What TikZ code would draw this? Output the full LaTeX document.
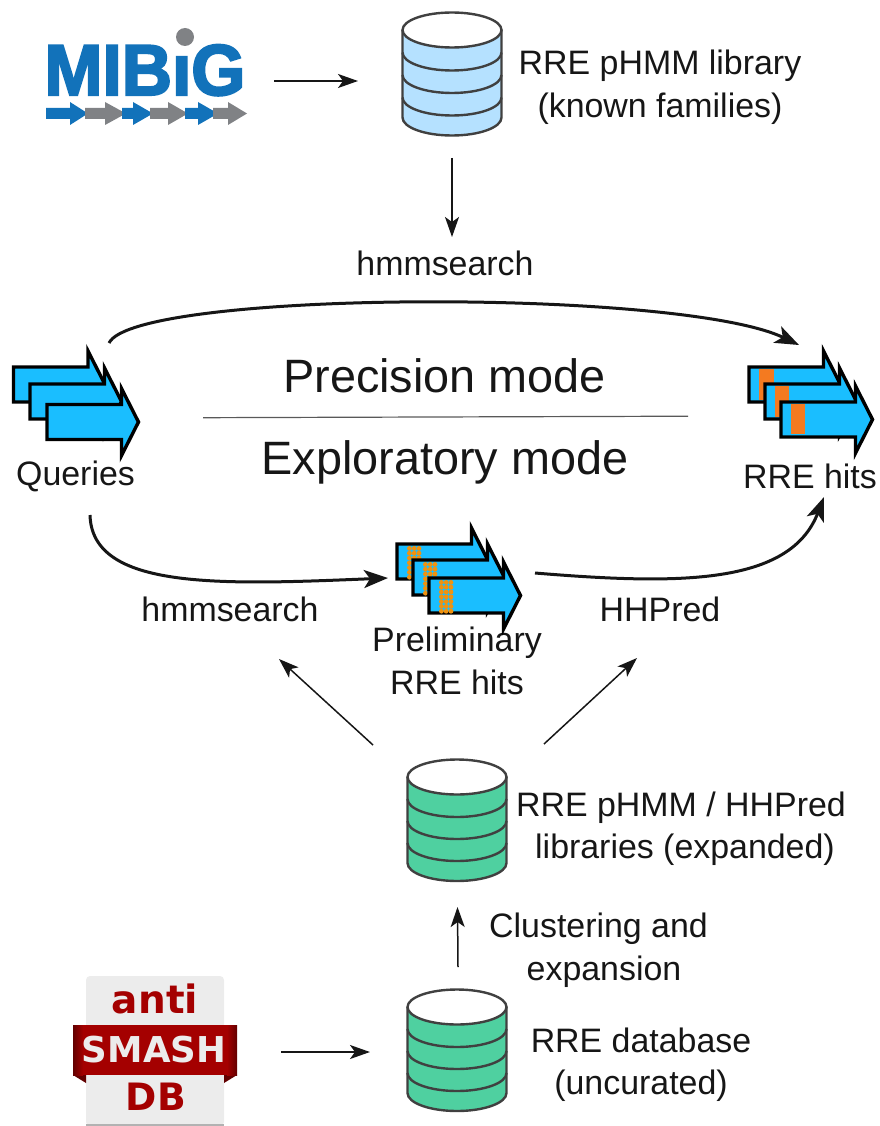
\documentclass[tikz,border=0pt]{standalone}
\usepackage{fontspec}
\setmainfont{Liberation Sans}
\newfontfamily\djb{DejaVu Sans Bold}
\newfontfamily\heavy[FakeBold=3]{Liberation Sans Bold}
\usetikzlibrary{arrows.meta,shapes.geometric}
\definecolor{ink}{HTML}{161616}
\definecolor{qblue}{HTML}{1ABEFF}
\definecolor{hitorange}{HTML}{F47A20}
\definecolor{dotorange}{HTML}{F0920F}
\definecolor{libblue}{HTML}{B5E1FF}
\definecolor{libgreen}{HTML}{4FD0A0}
\definecolor{mibigblue}{HTML}{1272BA}
\definecolor{mibiggrey}{HTML}{808285}
\definecolor{asred}{HTML}{A40000}
\definecolor{asgrey}{HTML}{ECECEC}
\tikzset{
  lbl/.style={font=\fontsize{33.9}{40}\selectfont,text=ink,anchor=base,inner sep=0pt},
  modelbl/.style={font=\fontsize{46.8}{54}\selectfont,text=ink,anchor=base,inner sep=0pt},
  thinarrow/.style={draw=ink,line width=1.5pt,-{Stealth[length=20pt,width=14pt,inset=5pt]}},
  thickarrow/.style={draw=ink,line width=3pt,-{Stealth[length=24pt,width=18pt,inset=6pt]}},
  dbline/.style={draw=black!75,line width=2.4pt},
  geneout/.style={draw=black,line width=3.4pt,fill=qblue,miter limit=10,line join=miter},
}
% cylinder: centre x, top-ellipse centre y, band pitch, fill
\newcommand{\dbcyl}[4]{%
  \path[fill=#4] (#1-49.5,#2) -- (#1-49.5,#2+3*#3+20) arc[x radius=49.5,y radius=18,start angle=180,end angle=0] -- (#1+49.5,#2) -- cycle;
  \draw[dbline] (#1-49.5,#2) -- (#1-49.5,#2+3*#3+20) arc[x radius=49.5,y radius=18,start angle=180,end angle=0] -- (#1+49.5,#2);
  \foreach \k in {1,2,3}{\draw[dbline] (#1-49.5,#2+\k*#3) arc[x radius=49.5,y radius=18,start angle=180,end angle=0];}
  \draw[dbline,fill=white] (#1,#2) ellipse[x radius=49.5,y radius=17.5];
}
% one gene arrow: left x, shaft top y
\newcommand{\genearrow}[2]{%
  \draw[geneout] (#1,#2) -- (#1+74.5,#2) -- (#1+74.5,#2-16) -- (#1+91.5,#2+17.5) -- (#1+74.5,#2+51) -- (#1+74.5,#2+35) -- (#1,#2+35) -- cycle;
}
\newcommand{\logoarrow}[4]{% x0, x-base, tip, colour
  \fill[#4] (#1,108) -- (#2,108) -- (#2,102) -- (#3,113.5) -- (#2,125) -- (#2,119) -- (#1,119) -- cycle;
}
\newcommand{\dotbar}[2]{% left x, top y
  \foreach \i in {0,1,2}{\foreach \j in {0,...,6}{\fill[dotorange] (#1+2.4+\i*4.8,#2+2.4+\j*4.8) circle[radius=2.4];}}
}
\begin{document}
\begin{tikzpicture}[x=1pt,y=-1pt]
\useasboundingbox (0,0) rectangle (879,1126);
% MIBiG logo
\node[inner sep=0pt,anchor=base,text=mibigblue] (mibig) at (145,95) {\scalebox{0.965}[1]{\heavy\fontsize{72}{72}\selectfont MIB\char"0131 G}};
\fill[mibiggrey] (185,37) circle[radius=9];
\logoarrow{46}{70}{88}{mibigblue}
\logoarrow{85}{105}{126}{mibiggrey}
\logoarrow{122}{133}{153}{mibigblue}
\logoarrow{150}{168}{188}{mibiggrey}
\logoarrow{185}{198}{218}{mibigblue}
\logoarrow{213}{228}{247}{mibiggrey}
% databases
\dbcyl{452}{30}{22.5}{libblue}
\dbcyl{457}{777}{22}{libgreen}
\dbcyl{457}{1007}{22}{libgreen}
% labels
\node[lbl] (lib1) at (660,75) {RRE pHMM library};
\node[lbl] (lib2) at (660,118) {(known families)};
\node[lbl] (hs1) at (445,275) {hmmsearch};
\node[modelbl] (prec) at (444.5,392) {Precision mode};
\node[modelbl] (expl) at (445,474) {Exploratory mode};
\node[lbl] (q) at (75.5,485) {Queries};
\node[lbl] (hits) at (810,488) {RRE hits};
\node[lbl] (hs2) at (230,621) {hmmsearch};
\node[lbl] (hhp) at (660,621) {HHPred};
\node[lbl] (pre1) at (457,651) {Preliminary};
\node[lbl] (pre2) at (457,694) {RRE hits};
\node[lbl] (exp1) at (681,816) {RRE pHMM / HHPred};
\node[lbl] (exp2) at (685,858) {libraries (expanded)};
\node[lbl] (cl1) at (598.5,937) {Clustering and};
\node[lbl] (cl2) at (604,980) {expansion};
\node[lbl] (db1) at (641,1052) {RRE database};
\node[lbl] (db2) at (641,1094) {(uncurated)};
% mode separator
\coordinate (sepL) at (203,417.7); \coordinate (sepR) at (688,416.2);
\draw[draw=black!65,line width=1.2pt] (sepL) -- (sepR);
% queries
\genearrow{13.5}{367}\genearrow{30}{384}\genearrow{47}{404.5}
% RRE hits
\genearrow{749}{367}\fill[hitorange] (759,369) rectangle (774,400);
\genearrow{765}{384}\fill[hitorange] (775,386) rectangle (789,417);
\genearrow{781}{402}\fill[hitorange] (791,404) rectangle (805,434);
% preliminary hits
\genearrow{397}{544}\dotbar{407}{546}
\genearrow{413}{560}\dotbar{423}{562}
\genearrow{429}{578}\dotbar{439}{580}
% antiSMASH logo
\fill[asgrey,rounded corners=4pt] (86,976) rectangle (224,1126);
\fill[black!30] (86,1124) rectangle (224,1126);
\fill[asred!60!black] (73,1075) -- (86,1083) -- (86,1075) -- cycle;
\fill[asred!60!black] (237,1075) -- (224,1083) -- (224,1075) -- cycle;
\shade[left color=asred!60!black,right color=asred] (73,1025) rectangle (83,1075);
\shade[right color=asred!60!black,left color=asred] (227,1025) rectangle (237,1075);
\fill[asred] (83,1025) rectangle (227,1075);
\node[inner sep=0pt,anchor=base,text=asred,font=\djb\fontsize{39}{40}\selectfont] (anti) at (155,1013) {anti};
\node[inner sep=0pt,anchor=base,text=asgrey,font=\djb\fontsize{35.6}{40}\selectfont] (smash) at (154,1062) {SMASH};
\node[inner sep=0pt,anchor=base,text=asred,font=\djb\fontsize{37.7}{40}\selectfont] (dbt) at (156,1110) {DB};
% connector ends
\coordinate (a1) at (274,81); \coordinate (a2) at (358,81);
\coordinate (b1) at (452,158); \coordinate (b2) at (452,237);
\coordinate (c1) at (373,745); \coordinate (c2) at (279,659);
\coordinate (d1) at (544,744); \coordinate (d2) at (637,658);
\coordinate (e1) at (458,967); \coordinate (e2) at (457.5,907);
\coordinate (f1) at (281,1052); \coordinate (f2) at (370,1052);
\coordinate (g1) at (109,343); \coordinate (g2) at (799,345);
\coordinate (h1) at (90,515); \coordinate (h2) at (388,578);
\coordinate (i1) at (535,573); \coordinate (i2) at (824,497);
\draw[thinarrow] (a1) -- (a2);
\draw[thinarrow] (b1) -- (b2);
\draw[thinarrow] (c1) -- (c2);
\draw[thinarrow] (d1) -- (d2);
\draw[thinarrow] (e1) -- (e2);
\draw[thinarrow] (f1) -- (f2);
\draw[thickarrow] (g1) .. controls (135,290) and (680,288) .. (g2);
\draw[thickarrow] (h1) .. controls (92,590) and (220,585) .. (h2);
\draw[thickarrow] (i1) .. controls (680,585) and (790,585) .. (i2);
\end{tikzpicture}
\end{document}
